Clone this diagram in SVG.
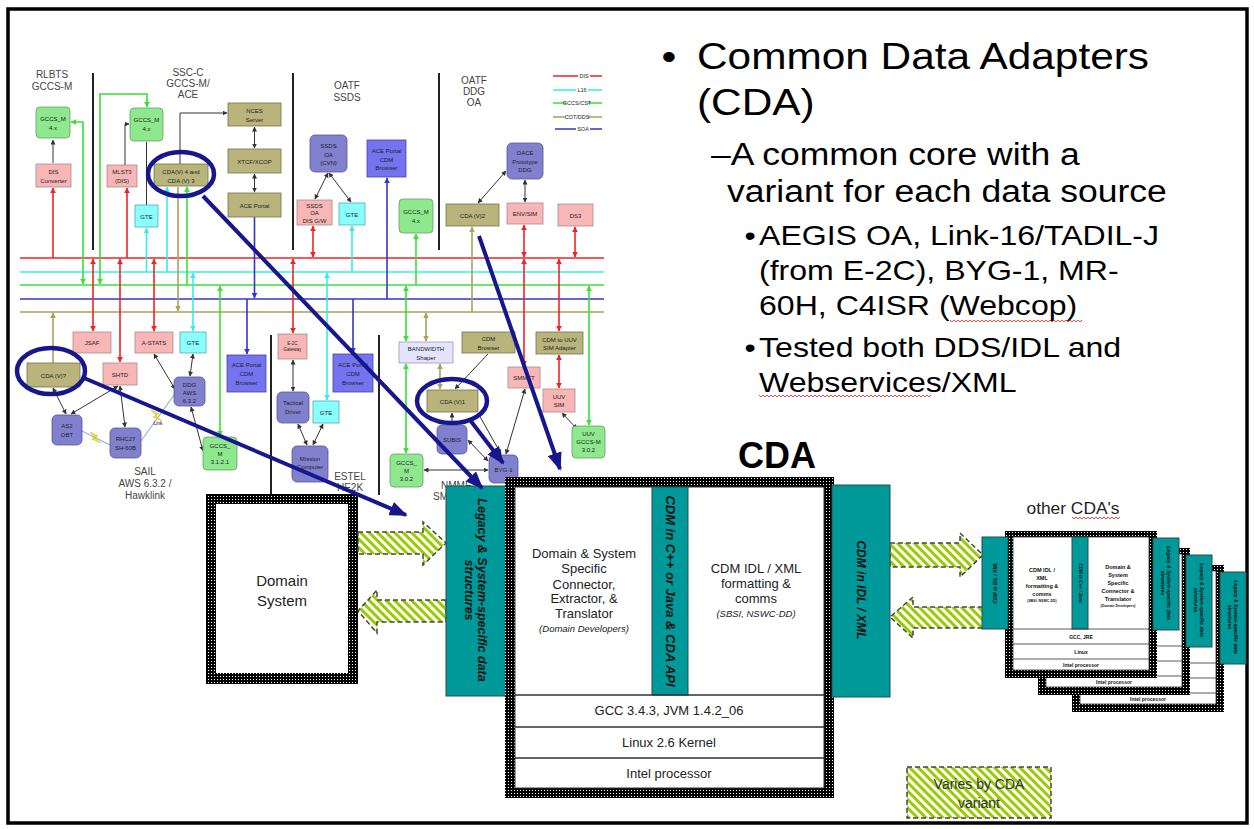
<svg xmlns="http://www.w3.org/2000/svg" width="1254" height="829" viewBox="0 0 1254 829">
<style>
text{font-family:"Liberation Sans",Arial,Helvetica,sans-serif}
.n{font-size:6px;fill:#222;text-anchor:middle}
.h{font-size:10px;fill:#444;text-anchor:middle}
.gr{fill:#8ee88e;stroke:#6c9c6c;stroke-width:.8}
.pk{fill:#f9b6b6;stroke:#a88a8a;stroke-width:.8}
.ol{fill:#b9b47c;stroke:#76734a;stroke-width:.8}
.cy{fill:#8affff;stroke:#5aa8a8;stroke-width:.8}
.pu{fill:#8080cf;stroke:#565698;stroke-width:.8}
.bl{fill:#7474f0;stroke:#44449c;stroke-width:.8}
.lv{fill:#e4e4ff;stroke:#9a9ab8;stroke-width:.8}
.k{stroke:#333;stroke-width:1;fill:none}
.r{stroke:#ec2424;stroke-width:1.6;fill:none}
.c{stroke:#38ecec;stroke-width:1.6;fill:none}
.g{stroke:#38e038;stroke-width:1.6;fill:none}
.b{stroke:#3434d0;stroke-width:1.6;fill:none}
.o{stroke:#a8a25a;stroke-width:1.6;fill:none}
.k.e{marker-end:url(#ak)} .k.d{marker-start:url(#ak);marker-end:url(#ak)}
.r.e{marker-end:url(#ar)} .r.d{marker-start:url(#ar);marker-end:url(#ar)}
.c.e{marker-end:url(#ac)} .c.d{marker-start:url(#ac);marker-end:url(#ac)}
.g.e{marker-end:url(#ag)} .g.d{marker-start:url(#ag);marker-end:url(#ag)}
.b.e{marker-end:url(#ab)}
.o.e{marker-end:url(#ao)} .o.d{marker-start:url(#ao);marker-end:url(#ao)}
.nv{stroke:#16168e;stroke-width:4.5;fill:none}
.nva{stroke:#16168e;stroke-width:4;fill:none;marker-end:url(#an)}
.dv{stroke:#222;stroke-width:2}
.teal{fill:#009999;stroke:#2c4c4c;stroke-width:1}
.tt{font-weight:bold;font-style:italic;fill:#111;text-anchor:middle}
.hat{fill:url(#hatch);stroke:#444;stroke-width:1.5;stroke-dasharray:5 3}
.m{fill:#222;text-anchor:middle}
.t{fill:#000}
.sq{stroke:#e02020;stroke-width:.8;fill:none}
.ut{fill:#111;text-anchor:middle;font-weight:bold}
</style>
<defs>
<marker id="ak" viewBox="0 0 10 10" refX="9" refY="5" markerWidth="5" markerHeight="5" markerUnits="userSpaceOnUse" orient="auto-start-reverse"><path d="M0,0 L10,5 L0,10 z" fill="#333"/></marker>
<marker id="ar" viewBox="0 0 10 10" refX="9" refY="5" markerWidth="6" markerHeight="6" markerUnits="userSpaceOnUse" orient="auto-start-reverse"><path d="M0,0 L10,5 L0,10 z" fill="#ec2424"/></marker>
<marker id="ac" viewBox="0 0 10 10" refX="9" refY="5" markerWidth="6" markerHeight="6" markerUnits="userSpaceOnUse" orient="auto-start-reverse"><path d="M0,0 L10,5 L0,10 z" fill="#38ecec"/></marker>
<marker id="ag" viewBox="0 0 10 10" refX="9" refY="5" markerWidth="6" markerHeight="6" markerUnits="userSpaceOnUse" orient="auto-start-reverse"><path d="M0,0 L10,5 L0,10 z" fill="#38e038"/></marker>
<marker id="ab" viewBox="0 0 10 10" refX="9" refY="5" markerWidth="6" markerHeight="6" markerUnits="userSpaceOnUse" orient="auto-start-reverse"><path d="M0,0 L10,5 L0,10 z" fill="#3434d0"/></marker>
<marker id="ao" viewBox="0 0 10 10" refX="9" refY="5" markerWidth="6" markerHeight="6" markerUnits="userSpaceOnUse" orient="auto-start-reverse"><path d="M0,0 L10,5 L0,10 z" fill="#a8a25a"/></marker>
<marker id="an" viewBox="0 0 10 8" refX="9" refY="4" markerWidth="4.5" markerHeight="3.6" orient="auto"><path d="M0,0 L10,4 L0,8 z" fill="#16168e"/></marker>
<pattern id="dots" width="3" height="3" patternUnits="userSpaceOnUse"><rect width="3" height="3" fill="#000"/><rect x="1" y="1" width="1" height="1" fill="#fff"/></pattern>
<pattern id="hatch" width="8" height="6" patternUnits="userSpaceOnUse" patternTransform="rotate(45)"><rect width="8" height="6" fill="#fff"/><rect width="8" height="3" fill="#99cc00"/></pattern>
<g id="unit">
<rect x="0" y="0" width="152" height="147" fill="url(#dots)"/>
<rect x="8" y="6" width="136" height="133" fill="#fff" stroke="#333" stroke-width=".8"/>
<rect x="67" y="6" width="16" height="92" class="teal"/>
<path d="M8,98 H144 M8,113 H144 M8,128 H144" stroke="#333" stroke-width=".8"/>
<rect x="-23" y="6" width="26" height="92" class="teal"/>
<rect x="148" y="7" width="26" height="92" class="teal"/>
<text class="tt" font-size="5" transform="translate(-8,52) rotate(-90)">CDM in IDL / XML</text>
<text class="ut" font-size="5.5" x="37" y="41">CDM IDL /</text>
<text class="ut" font-size="5.5" x="37" y="49">XML</text>
<text class="ut" font-size="5.5" x="37" y="57">formatting &amp;</text>
<text class="ut" font-size="5.5" x="37" y="65">comms</text>
<text class="ut" font-size="3.5" x="37" y="71">(SBSI, NSWC-DD)</text>
<text class="tt" font-size="4.5" transform="translate(74,52) rotate(90)">CDM in C++ / Java</text>
<text class="ut" font-size="5.5" x="113" y="38">Domain &amp;</text>
<text class="ut" font-size="5.5" x="113" y="46">System</text>
<text class="ut" font-size="5.5" x="113" y="54">Specific</text>
<text class="ut" font-size="5.5" x="113" y="62">Connector &amp;</text>
<text class="ut" font-size="5.5" x="113" y="70">Translator</text>
<text class="ut" font-size="3.5" x="113" y="76">(Domain Developers)</text>
<text class="tt" font-size="5" transform="translate(162,52) rotate(90)">Legacy &amp; System-specific data</text>
<text class="tt" font-size="5" transform="translate(156,52) rotate(90)">structures</text>
<text class="ut" font-size="5" x="76" y="108">GCC, JRE</text>
<text class="ut" font-size="5" x="76" y="123">Linux</text>
<text class="ut" font-size="5" x="76" y="136">Intel processor</text>
</g>
</defs>

<rect x="0" y="0" width="1254" height="829" fill="#fff"/>
<rect x="8" y="9" width="1239" height="814" fill="none" stroke="#000" stroke-width="3.5"/>

<!-- headers -->
<g id="headers">
<text class="h" x="52" y="78">RLBTS</text><text class="h" x="52" y="90">GCCS-M</text>
<text class="h" x="188" y="76">SSC-C</text><text class="h" x="188" y="87">GCCS-M/</text><text class="h" x="188" y="98">ACE</text>
<text class="h" x="347" y="89">OATF</text><text class="h" x="347" y="101">SSDS</text>
<text class="h" x="474" y="84">OATF</text><text class="h" x="474" y="95">DDG</text><text class="h" x="474" y="106">OA</text>
<text class="h" x="145" y="475">SAIL</text><text class="h" x="145" y="487">AWS 6.3.2 /</text><text class="h" x="145" y="499">Hawklink</text>
<text class="h" x="350" y="480">ESTEL</text><text class="h" x="350" y="491">HE2K</text>
<text class="h" x="441" y="489" style="text-anchor:start">NMMES</text>
<text class="h" x="433" y="500" style="text-anchor:start">SMMTT</text>
</g>

<g id="dividers">
<line class="dv" x1="93" y1="73" x2="93" y2="250"/>
<line class="dv" x1="293" y1="73" x2="293" y2="250"/>
<line class="dv" x1="439" y1="73" x2="439" y2="250"/>
<line class="dv" x1="271" y1="335" x2="271" y2="494"/>
<line class="dv" x1="379" y1="335" x2="379" y2="495"/>
</g>

<g id="legend">
<path class="r" d="M553,76 H578 M590,76 H602"/><text class="n" x="584" y="78" style="font-size:5.5px">DIS</text>
<path class="c" d="M553,90 H576 M588,90 H602"/><text class="n" x="582" y="92" style="font-size:5.5px">L16</text>
<path class="g" d="M553,103 H566 M588,103 H602"/><text class="n" x="577" y="105" style="font-size:5.5px">GCCS/CST</text>
<path class="o" d="M553,117 H566 M588,117 H602"/><text class="n" x="577" y="119" style="font-size:5.5px">COT/DDS</text>
<path class="b" d="M555,129 H576 M590,129 H602"/><text class="n" x="583" y="131" style="font-size:5.5px">SOA</text>
</g>

<g id="buses">
<line class="r" x1="20" y1="258" x2="604" y2="258"/>
<line class="c" x1="20" y1="272" x2="604" y2="272"/>
<line class="g" x1="20" y1="285" x2="604" y2="285"/>
<line class="b" x1="20" y1="299" x2="604" y2="299"/>
<line class="o" x1="20" y1="312" x2="604" y2="312"/>
</g>

<g id="connectors">
<path class="k e" d="M53,163 V140"/>
<path class="k e" d="M125,165 V124 H129"/>
<path class="k" d="M146.5,205 V142"/>
<path class="k e" d="M180,164 V113 H227"/>
<path class="k d" d="M254.5,127 V148"/>
<path class="k d" d="M254.5,174 V192"/>
<path class="k d" d="M328,173 L315,199"/>
<path class="k d" d="M329,173 L351,202"/>
<path class="k d" d="M478,203 L506,171"/>
<path class="k d" d="M525,180 V202"/>
<path class="k d" d="M53,388 L66,414"/>
<path class="k d" d="M71,414 L118,386"/>
<path class="k d" d="M120,386 L125,427"/>
<path class="k d" d="M154,354 L175,389"/>
<path class="k d" d="M193,354 L190,376"/>
<path class="k d" d="M191,407 L203,451"/>
<path class="k d" d="M293,360 V391"/>
<path class="k d" d="M298,424 L307,445"/>
<path class="k d" d="M323,424 L313,445"/>
<path class="k e" d="M488,354 L455,389"/>
<path class="k e" d="M452,424 V413"/>
<path class="k e" d="M478,413 L501,454"/>
<path class="k d" d="M468,440 L488,461"/>
<path class="k d" d="M424,470 H488"/>
<path class="k d" d="M525,389 L506,454"/>
<path class="k d" d="M562,413 L577,429"/>
<path class="r e" d="M53,258 V188"/>
<path class="r e" d="M127,258 V188"/>
<path class="r d" d="M313,226 V257"/>
<path class="r d" d="M524,225 V257"/>
<path class="r d" d="M575,227 V257"/>
<path class="r d" d="M93,259 V331"/>
<path class="r d" d="M120,259 V362"/>
<path class="r d" d="M154,259 V331"/>
<path class="r d" d="M293,259 V333"/>
<path class="r d" d="M524,259 V366"/>
<path class="r d" d="M559,259 V331"/>
<path class="r d" d="M559,355 V388"/>
<path class="c e" d="M146.5,272 V228"/>
<path class="c e" d="M167,272 V187"/>
<path class="c e" d="M352,272 V226"/>
<path class="c d" d="M193,273 V331"/>
<path class="c d" d="M327,273 V400"/>
<path class="g d" d="M83,284 V122 H71"/>
<path class="g d" d="M100,284 V94 H147 V107"/>
<path class="g e" d="M187,285 V187"/>
<path class="g e" d="M416,285 V234"/>
<path class="g d" d="M220,286 V436"/>
<path class="g d" d="M406,286 V341"/>
<path class="g d" d="M406,364 V453"/>
<path class="g d" d="M589,286 V425"/>
<path class="b e" d="M254.5,217 V298"/>
<path class="b e" d="M387,299 V178"/>
<path class="b e" d="M247,299 V354"/>
<path class="b e" d="M353,299 V353"/>
<path class="o e" d="M178,187 V311"/>
<path class="o e" d="M472,312 V227"/>
<path class="o e" d="M53,363 V313"/>
<path class="o d" d="M426,313 V341"/>
<path class="o d" d="M440,364 V389"/>
<path d="M82,431 L110,445 M141,441 L174,395" stroke="#8ab4dc" stroke-width="1.2" fill="none"/>
<polygon points="90,432 98,436 94,437 101,443 92,439 96,438" fill="#ffe81a" stroke="#c8b000" stroke-width=".5"/>
<polygon points="151,410 159,414 155,415 162,421 153,417 157,416" fill="#ffe81a" stroke="#c8b000" stroke-width=".5"/>
<text class="n" x="158" y="425" style="font-size:5px">Link</text>
</g>

<!-- network nodes -->
<g id="n-rl-gccs"><rect class="gr" x="36" y="107" width="34" height="31" rx="4"/><text class="n" x="53" y="121">GCCS_M</text><text class="n" x="53" y="130">4.x</text></g>
<g id="n-dis-conv"><rect class="pk" x="36" y="164" width="35" height="23"/><text class="n" x="53.5" y="174">DIS</text><text class="n" x="53.5" y="183">Converter</text></g>
<g id="n-ssc-gccs"><rect class="gr" x="130" y="108" width="33" height="33" rx="4"/><text class="n" x="146.5" y="122">GCCS_M</text><text class="n" x="146.5" y="131">4.x</text></g>
<g id="n-mlst3"><rect class="pk" x="107" y="165" width="30" height="22"/><text class="n" x="122" y="174">MLST3</text><text class="n" x="122" y="183">(DIS)</text></g>
<g id="n-gte1"><rect class="cy" x="135" y="205" width="23" height="22"/><text class="n" x="146.5" y="218.5">GTE</text></g>
<g id="n-cda4"><rect class="ol" x="154" y="164" width="54" height="22"/><text class="n" x="181" y="173.5">CDA(V) 4 and</text><text class="n" x="181" y="182.5">CDA (V) 3</text></g>
<g id="n-nces"><rect class="ol" x="228" y="103" width="53" height="23"/><text class="n" x="254.5" y="113">NCES</text><text class="n" x="254.5" y="122">Server</text></g>
<g id="n-xtcf"><rect class="ol" x="228" y="149" width="53" height="24"/><text class="n" x="254.5" y="163.5">XTCF/XCOP</text></g>
<g id="n-aceportal"><rect class="ol" x="228" y="193" width="53" height="24"/><text class="n" x="254.5" y="207.5">ACE Portal</text></g>
<g id="n-ssds-oa"><rect class="pu" x="310" y="135" width="37" height="37" rx="5"/><text class="n" x="328.5" y="148">SSDS</text><text class="n" x="328.5" y="156.5">OA</text><text class="n" x="328.5" y="165">(CVN)</text></g>
<g id="n-ssds-dis"><rect class="pk" x="297" y="200" width="35" height="25"/><text class="n" x="314.5" y="207.5">SSDS</text><text class="n" x="314.5" y="215">OA</text><text class="n" x="314.5" y="222.5">DIS G/W</text></g>
<g id="n-gte2"><rect class="cy" x="339" y="203" width="26" height="22"/><text class="n" x="352" y="216.5">GTE</text></g>
<g id="n-ace-cdm1"><rect class="bl" x="367" y="140" width="39" height="37"/><text class="n" x="386.5" y="153">ACE Portal</text><text class="n" x="386.5" y="161.5">CDM</text><text class="n" x="386.5" y="170">Browser</text></g>
<g id="n-gccs3"><rect class="gr" x="399" y="199" width="34" height="34" rx="4"/><text class="n" x="416" y="214">GCCS_M</text><text class="n" x="416" y="223">4.x</text></g>
<g id="n-cda2"><rect class="ol" x="446" y="204" width="53" height="22"/><text class="n" x="472.5" y="217.5">CDA (V)2</text></g>
<g id="n-oace"><rect class="pu" x="507" y="143" width="36" height="36" rx="5"/><text class="n" x="525" y="155">OACE</text><text class="n" x="525" y="163.5">Prototype</text><text class="n" x="525" y="172">DDG</text></g>
<g id="n-envsim"><rect class="pk" x="507" y="203" width="36" height="21"/><text class="n" x="525" y="216">ENV/SIM</text></g>
<g id="n-ds3"><rect class="pk" x="558" y="204" width="35" height="22"/><text class="n" x="575.5" y="217.5">DS3</text></g>
<g id="n-cda-q"><rect class="ol" x="27" y="363" width="53" height="24"/><text class="n" x="53.5" y="377.5">CDA (V)?</text></g>
<g id="n-jsaf"><rect class="pk" x="73" y="332" width="38" height="21"/><text class="n" x="92" y="345">JSAF</text></g>
<g id="n-shtd"><rect class="pk" x="103" y="363" width="34" height="22"/><text class="n" x="120" y="376.5">SHTD</text></g>
<g id="n-astats"><rect class="pk" x="135" y="332" width="38" height="21"/><text class="n" x="154" y="345">A-STATS</text></g>
<g id="n-gte3"><rect class="cy" x="180" y="332" width="26" height="21"/><text class="n" x="193" y="345">GTE</text></g>
<g id="n-ace-cdm2"><rect class="bl" x="227" y="355" width="39" height="37"/><text class="n" x="246.5" y="367">ACE Portal</text><text class="n" x="246.5" y="376">CDM</text><text class="n" x="246.5" y="385">Browser</text></g>
<g id="n-ddg-aws"><rect class="pu" x="174" y="377" width="31" height="29" rx="5"/><text class="n" x="189.5" y="387">DDG</text><text class="n" x="189.5" y="395">AWS</text><text class="n" x="189.5" y="403">6.3.2</text></g>
<g id="n-as2"><rect class="pu" x="52" y="415" width="30" height="30" rx="5"/><text class="n" x="67" y="428">AS2</text><text class="n" x="67" y="437">OBT</text></g>
<g id="n-rhc27"><rect class="pu" x="110" y="428" width="31" height="30" rx="5"/><text class="n" x="125.5" y="441">RHC27</text><text class="n" x="125.5" y="450">SH-60B</text></g>
<g id="n-gccs-3121"><rect class="gr" x="203" y="437" width="34" height="33" rx="4"/><text class="n" x="220" y="448">GCCS_</text><text class="n" x="220" y="456">M</text><text class="n" x="220" y="464">3.1.2.1</text></g>
<g id="n-e2c"><rect class="pk" x="278" y="334" width="29" height="25"/><text class="n" x="292.5" y="345" style="font-size:4.5px">E-2C</text><text class="n" x="292.5" y="351" style="font-size:4.5px">Gateway</text></g>
<g id="n-tactical"><rect class="pu" x="277" y="392" width="32" height="31" rx="5"/><text class="n" x="293" y="405">Tactical</text><text class="n" x="293" y="414">Driver</text></g>
<g id="n-gte4"><rect class="cy" x="313" y="401" width="26" height="22"/><text class="n" x="326" y="414.5">GTE</text></g>
<g id="n-mission"><rect class="pu" x="292" y="446" width="36" height="36" rx="5"/><text class="n" x="310" y="461">Mission</text><text class="n" x="310" y="469">Computer</text></g>
<g id="n-ace-cdm3"><rect class="bl" x="333" y="354" width="40" height="38"/><text class="n" x="353" y="367">ACE Portal</text><text class="n" x="353" y="376">CDM</text><text class="n" x="353" y="385">Browser</text></g>
<g id="n-bandwidth"><rect class="lv" x="399" y="342" width="54" height="21"/><text class="n" x="426" y="351">BANDWIDTH</text><text class="n" x="426" y="359.5">Shaper</text></g>
<g id="n-cdm-browser"><rect class="ol" x="462" y="332" width="53" height="21"/><text class="n" x="488.5" y="341">CDM</text><text class="n" x="488.5" y="349.5">Browser</text></g>
<g id="n-cda1"><rect class="ol" x="427" y="390" width="51" height="22"/><text class="n" x="452.5" y="403.5">CDA (V)1</text></g>
<g id="n-subis"><rect class="pu" x="437" y="425" width="30" height="29" rx="5"/><text class="n" x="452" y="442">SUBIS</text></g>
<g id="n-gccs-302"><rect class="gr" x="390" y="454" width="33" height="33" rx="4"/><text class="n" x="406.5" y="465">GCCS_</text><text class="n" x="406.5" y="473">M</text><text class="n" x="406.5" y="481">3.0.2</text></g>
<g id="n-smmtt"><rect class="pk" x="508" y="367" width="32" height="21"/><text class="n" x="524" y="380">SMMTT</text></g>
<g id="n-cdm-uuv"><rect class="ol" x="536" y="332" width="47" height="22"/><text class="n" x="559.5" y="341.5">CDM to UUV</text><text class="n" x="559.5" y="350">SIM Adapter</text></g>
<g id="n-uuv-sim"><rect class="pk" x="543" y="389" width="32" height="23"/><text class="n" x="559" y="398.5">UUV</text><text class="n" x="559" y="407">SIM</text></g>
<g id="n-uuv-gccs"><rect class="gr" x="572" y="426" width="33" height="32" rx="4"/><text class="n" x="588.5" y="436">UUV</text><text class="n" x="588.5" y="444">GCCS-M</text><text class="n" x="588.5" y="452">3.0.2</text></g>
<g id="n-byg1"><rect class="pu" x="489" y="455" width="29" height="28" rx="5"/><text class="n" x="503.5" y="471.5">BYG-1</text></g>

<!-- Domain system -->
<g id="domain-system">
<rect x="206" y="494" width="152" height="190" fill="url(#dots)"/>
<rect x="216" y="504" width="132" height="169" fill="#fff"/>
<text class="m" x="282" y="586" font-size="15">Domain</text>
<text class="m" x="282" y="606" font-size="15">System</text>
</g>

<!-- hatched arrows -->
<g id="hatched-arrows">
<polygon class="hat" points="358,532 423,532 423,522 446,543 423,565 423,554 358,554"/>
<polygon class="hat" points="446,600 377,600 377,590 358,611 377,633 377,622 446,622"/>
<polygon class="hat" points="890,543 960,543 960,533 983,555 960,577 960,567 890,567"/>
<polygon class="hat" points="983,607 913,607 913,597 890,617 913,638 913,628 983,628"/>
</g>

<!-- main CDA -->
<g id="cda-main">
<text x="777" y="468" font-size="36" font-weight="bold" class="m" style="fill:#000">CDA</text>
<rect x="446" y="486" width="62" height="210" class="teal"/>
<rect x="505" y="477" width="329" height="321" fill="url(#dots)"/>
<rect x="515" y="487" width="309" height="301" fill="#fff" stroke="#333" stroke-width="1"/>
<rect x="652" y="487" width="36" height="208" class="teal"/>
<path d="M515,695 H824 M515,727 H824 M515,758 H824" stroke="#333" stroke-width="1.5"/>
<rect x="832" y="485" width="58" height="212" class="teal"/>
<text class="tt" font-size="12.5" transform="translate(478,590) rotate(90)">Legacy &amp; System-specific data</text>
<text class="tt" font-size="12.5" transform="translate(465,590) rotate(90)">structures</text>
<text class="tt" font-size="13" transform="translate(666,591) rotate(90)">CDM in C++ or Java &amp; CDA API</text>
<text class="tt" font-size="12" transform="translate(857,590) rotate(90)">CDM in IDL / XML</text>
<text class="m" font-size="13" x="584" y="558">Domain &amp; System</text>
<text class="m" font-size="13" x="584" y="573">Specific</text>
<text class="m" font-size="13" x="584" y="589">Connector,</text>
<text class="m" font-size="13" x="584" y="603">Extractor, &amp;</text>
<text class="m" font-size="13" x="584" y="618">Translator</text>
<text class="m" font-size="9.5" font-style="italic" x="584" y="632">(Domain Developers)</text>
<text class="m" font-size="13" x="756" y="573">CDM IDL / XML</text>
<text class="m" font-size="13" x="756" y="588">formatting &amp;</text>
<text class="m" font-size="13" x="756" y="603">comms</text>
<text class="m" font-size="9.5" font-style="italic" x="756" y="617">(SBSI, NSWC-DD)</text>
<text class="m" font-size="13" x="669" y="715">GCC 3.4.3, JVM 1.4.2_06</text>
<text class="m" font-size="13" x="669" y="747">Linux 2.6 Kernel</text>
<text class="m" font-size="13" x="669" y="778">Intel processor</text>
</g>

<!-- other CDAs -->
<g id="other-cdas">
<text class="m" x="1073" y="514" font-size="16" textLength="93" lengthAdjust="spacingAndGlyphs">other CDA's</text>
<path class="sq" d="M1072,517 l2,2 2,-2 2,2 2,-2 2,2 2,-2 2,2 2,-2 2,2 2,-2 2,2 2,-2 2,2 2,-2 2,2 2,-2 2,2 2,-2 2,2 2,-2 2,2 2,-2 2,2 2,-2"/>
<use href="#unit" x="1072" y="565"/>
<use href="#unit" x="1038" y="548"/>
<use href="#unit" x="1005" y="531"/>
</g>

<!-- legend box -->
<g id="varies-legend">
<rect class="hat" x="907" y="767" width="144" height="51"/>
<text class="m" x="979" y="789" font-size="14" style="fill:#333">Varies by CDA</text>
<text class="m" x="979" y="808" font-size="14" style="fill:#333">variant</text>
</g>

<!-- highlights -->
<g id="highlights">
<ellipse class="nv" cx="181" cy="174" rx="33" ry="22"/>
<ellipse class="nv" cx="51" cy="371" rx="34" ry="23"/>
<ellipse class="nv" cx="452" cy="401" rx="35" ry="22"/>
</g>
<g id="pointer-arrows">
<path class="nva" d="M203,196 L482,488"/>
<path class="nva" d="M84,378 L406,515"/>
<path class="nva" d="M470,420 L503,463"/>
<path class="nva" d="M479,236 L560,469"/>
</g>

<!-- title text (slide is stretched horizontally) -->
<g id="title-text" transform="matrix(1.145,0,0,1,-101.07,0)">
<text class="t" x="666" y="69" font-size="37">•</text>
<text class="t" x="697" y="69" font-size="37">Common Data Adapters</text>
<text class="t" x="697" y="115" font-size="37">(CDA)</text>
<text class="t" x="709.2" y="165" font-size="31">–A common core with a</text>
<text class="t" x="723.2" y="202" font-size="31">variant for each data source</text>
<text class="t" x="738.4" y="245" font-size="28">•</text>
<text class="t" x="751.2" y="245" font-size="28">AEGIS OA, Link-16/TADIL-J</text>
<text class="t" x="751.2" y="280" font-size="28">(from E-2C), BYG-1, MR-</text>
<text class="t" x="751.2" y="315" font-size="28">60H, C4ISR (Webcop)</text>
<text class="t" x="738.4" y="357" font-size="28">•</text>
<text class="t" x="751.2" y="357" font-size="28">Tested both DDS/IDL and</text>
<text class="t" x="751.2" y="392" font-size="28">Webservices/XML</text>
</g>
<g id="spelling-marks">
<path class="sq" d="M950,320 l2,2 2,-2 2,2 2,-2 2,2 2,-2 2,2 2,-2 2,2 2,-2 2,2 2,-2 2,2 2,-2 2,2 2,-2 2,2 2,-2 2,2 2,-2 2,2 2,-2 2,2 2,-2 2,2 2,-2 2,2 2,-2 2,2 2,-2 2,2 2,-2 2,2 2,-2 2,2 2,-2 2,2 2,-2 2,2 2,-2 2,2 2,-2 2,2 2,-2 2,2 2,-2 2,2 2,-2 2,2 2,-2 2,2 2,-2 2,2 2,-2 2,2 2,-2 2,2 2,-2 2,2 2,-2 2,2 2,-2 2,2 2,-2 2,2 2,-2"/>
<path class="sq" d="M759,395 l2,2 2,-2 2,2 2,-2 2,2 2,-2 2,2 2,-2 2,2 2,-2 2,2 2,-2 2,2 2,-2 2,2 2,-2 2,2 2,-2 2,2 2,-2 2,2 2,-2 2,2 2,-2 2,2 2,-2 2,2 2,-2 2,2 2,-2 2,2 2,-2 2,2 2,-2 2,2 2,-2 2,2 2,-2 2,2 2,-2 2,2 2,-2 2,2 2,-2 2,2 2,-2 2,2 2,-2 2,2 2,-2 2,2 2,-2 2,2 2,-2 2,2 2,-2 2,2 2,-2 2,2 2,-2 2,2 2,-2 2,2 2,-2 2,2 2,-2 2,2 2,-2 2,2 2,-2 2,2 2,-2 2,2 2,-2 2,2 2,-2 2,2 2,-2 2,2 2,-2 2,2 2,-2 2,2 2,-2 2,2 2,-2"/>
</g>
</svg>
